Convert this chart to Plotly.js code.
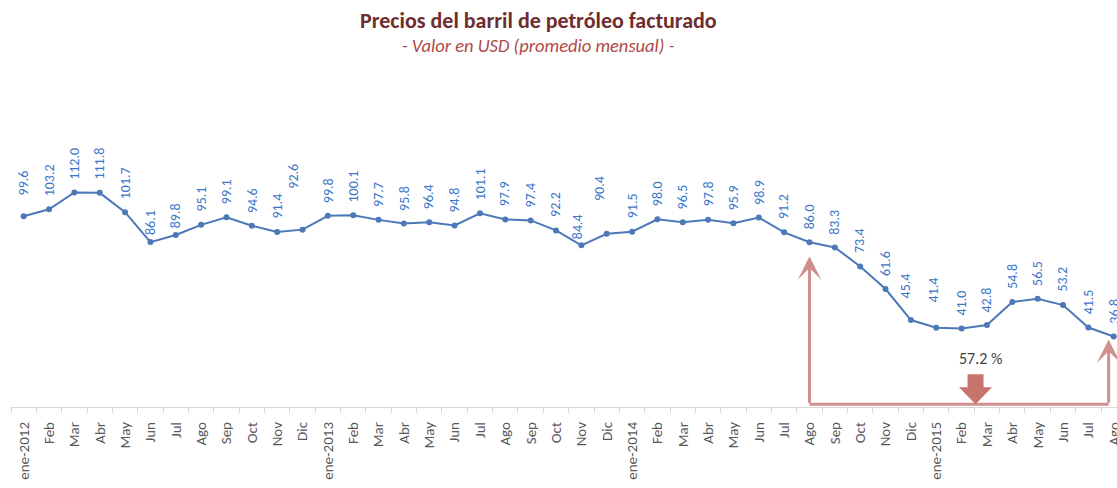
<!DOCTYPE html>
<html>
<head>
<meta charset="utf-8">
<script src="https://cdn.plot.ly/plotly-3.0.1.min.js"></script>
<style>
html,body{margin:0;padding:0;background:#fff;}
#chart{width:1117px;height:488px;}
</style>
</head>
<body>
<div id="chart"></div>
<script>
// ---- data ----
const categories = [
  'ene-2012','Feb','Mar','Abr','May','Jun','Jul','Ago','Sep','Oct','Nov','Dic',
  'ene-2013','Feb','Mar','Abr','May','Jun','Jul','Ago','Sep','Oct','Nov','Dic',
  'ene-2014','Feb','Mar','Abr','May','Jun','Jul','Ago','Sep','Oct','Nov','Dic',
  'ene-2015','Feb','Mar','Abr','May','Jun','Jul','Ago'
];
const prices = [
  99.6, 103.2, 112.0, 111.8, 101.7, 86.1, 89.8, 95.1, 99.1, 94.6, 91.4, 92.6,
  99.8, 100.1, 97.7, 95.8, 96.4, 94.8, 101.1, 97.9, 97.4, 92.2, 84.4, 90.4,
  91.5, 98.0, 96.5, 97.8, 95.9, 98.9, 91.2, 86.0, 83.3, 73.4, 61.6, 45.4,
  41.4, 41.0, 42.8, 54.8, 56.5, 53.2, 41.5, 36.8
];
const titleText = 'Precios del barril de petróleo facturado';
const subtitleText = '- Valor en USD (promedio mensual) -';
const fromIndex = 31;         // Ago-2014
const toIndex = 43;           // Ago-2015

// ---- layout helpers (not data) ----
const labelNudge = {0:[0,8],5:[0,-6],6:[0,-6],11:[-9,28],22:[-4,-7],23:[-7,20],35:[-5,9],36:[-3,12]};
const xIdx = categories.map((c,i)=>i);
const boundaries = categories.map((c,i)=>i-0.5).concat([categories.length-0.5]);
const FONT = 'Carlito, Calibri, "Open Sans", sans-serif';
const arrowColor = '#cf8f8c';
const baseVal = 1.5;

const annotations = [];
prices.forEach((v,i)=>{
  const n = labelNudge[i] || [0,0];
  annotations.push({
    x:i, y:v, xref:'x', yref:'y', text:v.toFixed(1), showarrow:false,
    textangle:-90, xanchor:'center', yanchor:'bottom',
    xshift:n[0], yshift:11+n[1],
    font:{family:FONT, size:14, color:'#3a76c8'}
  });
});
// title + subtitle
annotations.push({xref:'paper', yref:'paper', x:0.477, y:1.554, xanchor:'center', yanchor:'middle',
  text:'<b>'+titleText+'</b>', showarrow:false, font:{family:FONT, size:22, color:'#6f2d2d'}});
annotations.push({xref:'paper', yref:'paper', x:0.477, y:1.452, xanchor:'center', yanchor:'middle',
  text:'<i>'+subtitleText+'</i>', showarrow:false, font:{family:FONT, size:18.5, color:'#b04a46'}});
// vertical arrows
const rightX = toIndex - 0.2;
annotations.push({x:fromIndex, y:prices[fromIndex], xref:'x', yref:'y',
  ax:fromIndex, ay:baseVal, axref:'x', ayref:'y', text:'', showarrow:true,
  arrowhead:3, arrowsize:1.3, arrowwidth:3, arrowcolor:arrowColor, standoff:14});
annotations.push({x:rightX, y:prices[toIndex], xref:'x', yref:'y',
  ax:rightX, ay:baseVal, axref:'x', ayref:'y', text:'', showarrow:true,
  arrowhead:3, arrowsize:1.3, arrowwidth:3, arrowcolor:arrowColor, standoff:3});
// percentage
const pct = (1 - prices[toIndex]/prices[fromIndex]) * 100;
annotations.push({x:37.75, y:25.5, xref:'x', yref:'y', text:pct.toFixed(1)+' %', showarrow:false,
  font:{family:FONT, size:16, color:'#404040'}});

const shapes = [
  {type:'line', xref:'x', yref:'y', x0:fromIndex, x1:rightX, y0:baseVal, y1:baseVal,
   line:{color:arrowColor, width:3}},
  {type:'path', xref:'x', yref:'y', xsizemode:'pixel', ysizemode:'pixel', xanchor:37.55, yanchor:baseVal,
   path:'M -8,30 L 8,30 L 8,17 L 16.5,17 L 0,0 L -16.5,17 L -8,17 Z',
   fillcolor:'#c9736e', line:{width:0}}
];

const trace = {
  x:xIdx, y:prices, type:'scatter', mode:'lines+markers',
  line:{color:'#4c78b8', width:2},
  marker:{color:'#4c78b8', size:6},
  hoverinfo:'skip'
};

const layout = {
  width:1117, height:488,
  margin:{l:11, r:0, t:158, b:81},
  paper_bgcolor:'#ffffff', plot_bgcolor:'#ffffff',
  showlegend:false,
  xaxis:{
    range:[-0.5, 43.13], tickmode:'array', tickvals:xIdx, ticktext:categories,
    tickangle:-90, ticks:'', showgrid:false, zeroline:false,
    showline:true, linecolor:'#d9d9d9', linewidth:1,
    ticklabelstandoff:8, ticklabeloverflow:'allow',
    tickfont:{family:FONT, size:15, color:'#595959'},
    minor:{tickmode:'array', tickvals:boundaries, ticks:'outside', ticklen:5, tickcolor:'#d9d9d9', showgrid:false}
  },
  yaxis:{range:[0,130], visible:false, showgrid:false, zeroline:false},
  annotations:annotations,
  shapes:shapes
};

Plotly.newPlot('chart', [trace], layout, {displayModeBar:false, staticPlot:true});
</script>
</body>
</html>
